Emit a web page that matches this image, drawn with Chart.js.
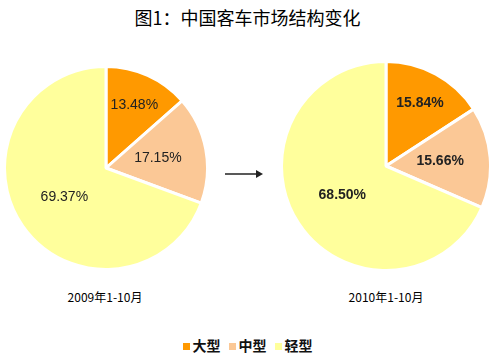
<!DOCTYPE html>
<html>
<head>
<meta charset="utf-8">
<script src="https://cdn.jsdelivr.net/npm/chart.js@4/dist/chart.umd.min.js"></script>
<style>
  html, body { margin:0; padding:0; background:#fff; }
  body { width:495px; height:357px; position:relative; overflow:hidden; font-family:"Noto Sans CJK SC", sans-serif; }
  #title { position:absolute; left:0; width:495px; top:4px; text-align:center; font-size:18px; color:#000; font-family:"Noto Sans CJK SC"; font-weight:normal; }
  .box { position:absolute; }
  .cap { position:absolute; top:288px; width:200px; text-align:center; font-size:12px; color:#000; font-family:"Noto Sans CJK SC"; }
  #arrow { position:absolute; left:225px; top:169px; }
  #legend { position:absolute; top:335px; left:0; width:495px; text-align:center; font-size:14px; font-weight:bold; color:#111; }
  #legend span.item { display:inline-block; margin:0 4px; }
  #legend span.sw { display:inline-block; width:7px; height:7px; margin-right:3px; vertical-align:1px; }
</style>
</head>
<body>
<div id="title">图1：中国客车市场结构变化</div>
<div class="box" style="left:3px;top:65px;width:206px;height:206px;"><canvas id="c1"></canvas></div>
<div class="box" style="left:280px;top:60px;width:212px;height:212px;"><canvas id="c2"></canvas></div>
<svg id="arrow" width="40" height="12"><line x1="0" y1="5" x2="32" y2="5" stroke="#222" stroke-width="1.5"/><polygon points="31,1 38,5 31,9" fill="#222"/></svg>
<div class="cap" id="cap1" style="left:5px;"></div>
<div class="cap" id="cap2" style="left:286px;"></div>
<div id="legend"></div>
<script>
const categories = ["大型", "中型", "轻型"];
const periods = ["2009年1-10月", "2010年1-10月"];
const values2009 = [13.48, 17.15, 69.37];
const values2010 = [15.84, 15.66, 68.50];
const colors = ["#FF9900", "#FBC896", "#FFFF9C"];

document.getElementById('cap1').textContent = periods[0];
document.getElementById('cap2').textContent = periods[1];
const lg = document.getElementById('legend');
categories.forEach((c, i) => {
  const s = document.createElement('span'); s.className = 'item';
  s.innerHTML = '<span class="sw" style="background:' + colors[i] + '"></span>' + c;
  lg.appendChild(s);
});

const labelFactors = [0.68, 0.52, 0.5];
const pctLabels = {
  id: 'pctLabels',
  afterDatasetsDraw(chart, args, opts) {
    const ctx = chart.ctx;
    const meta = chart.getDatasetMeta(0);
    ctx.save();
    ctx.font = (opts.bold ? 'bold ' : '') + '14px Arial, "Liberation Sans", sans-serif';
    ctx.fillStyle = '#222';
    ctx.textAlign = 'center';
    ctx.textBaseline = 'middle';
    meta.data.forEach((arc, i) => {
      const p = arc.getProps(['x','y','startAngle','endAngle','outerRadius'], true);
      const mid = (p.startAngle + p.endAngle) / 2;
      const r = p.outerRadius * labelFactors[i];
      const v = chart.data.datasets[0].data[i];
      ctx.fillText(v.toFixed(2) + '%', p.x + Math.cos(mid) * r, p.y + Math.sin(mid) * r);
    });
    ctx.restore();
  }
};

function makePie(id, data, bold) {
  new Chart(document.getElementById(id), {
    type: 'pie',
    data: { labels: categories, datasets: [{ data: data, backgroundColor: colors, borderColor: '#fff', borderWidth: 3 }] },
    options: {
      responsive: true, maintainAspectRatio: false, animation: false,
      layout: { padding: 0 },
      plugins: { legend: { display: false }, tooltip: { enabled: false }, pctLabels: { bold: bold } }
    },
    plugins: [pctLabels]
  });
}
makePie('c1', values2009, false);
makePie('c2', values2010, true);
</script>
</body>
</html>
